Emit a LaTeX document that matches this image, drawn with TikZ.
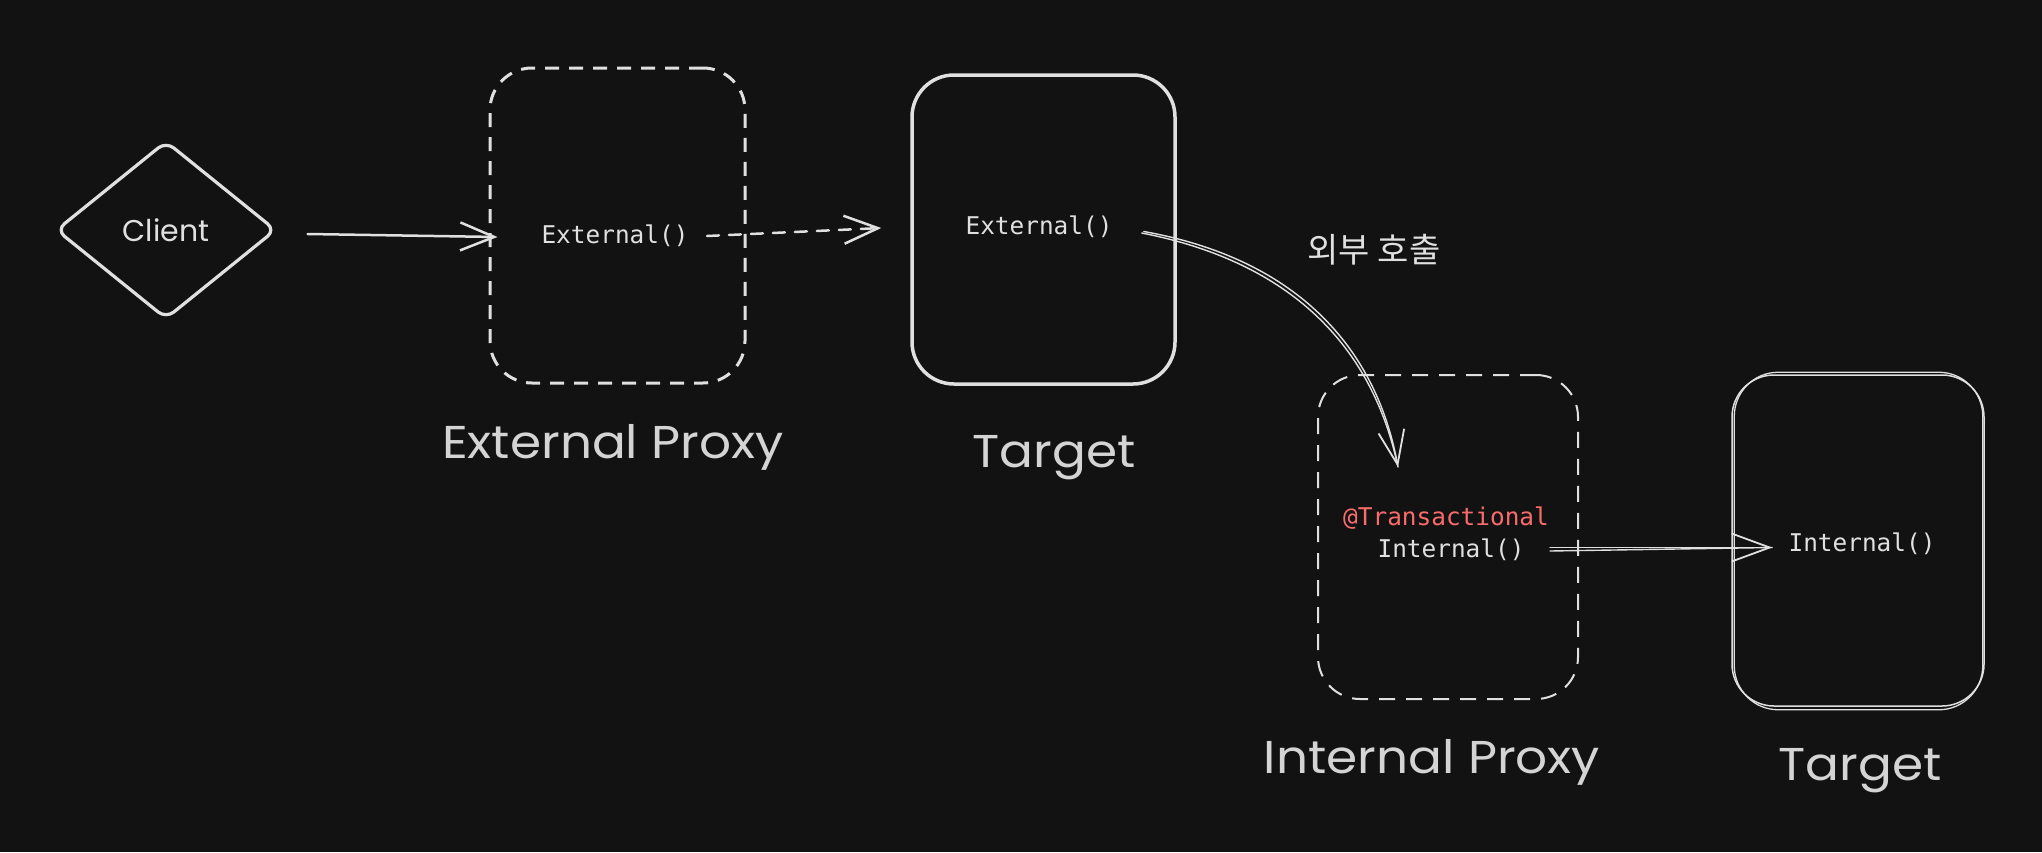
\documentclass[tikz,border=0pt]{standalone}
\usepackage{fontspec}
\setmainfont{Poppins}
\newfontfamily\codefont{DejaVu Sans Mono}
\newfontfamily\krfont{Noto Sans CJK KR}
\usetikzlibrary{shapes.geometric,arrows.meta,calc}
\definecolor{bg}{RGB}{18,18,18}
\definecolor{ink}{RGB}{224,224,224}
\definecolor{txt}{RGB}{212,212,212}
\definecolor{redtxt}{RGB}{250,108,108}
\newcommand{\widetitle}[1]{\scalebox{1.09}[1]{#1}}
\tikzset{
  barbarrow/.style={-{Straight Barb[length=34pt,width=28pt,line width=2.5pt]}},
  bigbox/.style={rounded corners=42pt, inner sep=0pt},
  codetext/.style={text=ink, font=\codefont\fontsize{24.4}{28}\selectfont, inner sep=0pt},
  bigtitle/.style={text=txt, font=\fontsize{46}{54}\selectfont, inner sep=0pt, anchor=base},
  conn/.style={draw=ink, line width=2.5pt, line cap=round},
}
\begin{document}
\begin{tikzpicture}[x=1pt,y=-1pt]
\fill[bg] (0,0) rectangle (2042,852);
\useasboundingbox (0,0) rectangle (2042,852);

% Client diamond
\node[diamond, draw=ink, line width=3.2pt, rounded corners=10pt, minimum width=220pt,
      minimum height=178pt, inner sep=0pt, text=ink,
      font=\fontsize{30}{36}\selectfont] (client) at (166,230) {Client};

% External proxy (dashed)
\node[bigbox, draw=ink, line width=3pt, dash pattern=on 14pt off 10pt,
      minimum width=255pt, minimum height=315pt] (extproxy) at (617.5,225.5) {};
\node[codetext] (extcall) at (615,236) {External()};
\node[bigtitle] (extlabel) at (613,458) {\widetitle{External Proxy}};

% Target 1
\node[bigbox, draw=ink, line width=3.5pt,
      minimum width=263pt, minimum height=309pt] (target1) at (1043.5,229.5) {};
\node[codetext] (t1call) at (1039,227) {External()};
\node[bigtitle] (t1label) at (1054,467) {\widetitle{Target}};

% Korean label
\node[text=ink, font=\krfont\fontsize{34}{40}\selectfont, inner sep=0pt] (outcall) at (1374,250) {외부 호출};

% Internal proxy (dashed)
\node[bigbox, draw=ink, line width=2pt, dash pattern=on 16pt off 11pt,
      minimum width=260pt, minimum height=324pt] (intproxy) at (1448,537) {};
\node[codetext, text=redtxt] (trans) at (1446,518) {@Transactional};
\node[codetext] (intcall) at (1451,550) {Internal()};
\node[bigtitle] (iplabel) at (1432,773) {\widetitle{Internal Proxy}};

% Target 2 (double sketch stroke)
\node[bigbox, draw=ink, line width=1.5pt,
      minimum width=252pt, minimum height=331pt] (target2) at (1858,540.5) {};
\draw[ink, line width=1.3pt, rounded corners=44pt]
  ($(target2.north west)+(3,-2)$) rectangle ($(target2.south east)+(-2,3)$);
\node[codetext] (t2call) at (1862,544) {Internal()};
\node[bigtitle] (t2label) at (1860,780) {\widetitle{Target}};

% Connectors
\draw[conn, barbarrow] ($(client.east)+(30,4)$) -- ($(extproxy.west)+(9,11.5)$);
\draw[conn, barbarrow, dash pattern=on 12pt off 10pt]
  ($(extproxy.center)+(89.5,10.5)$) -- ($(target1.west)+(-29,-1.5)$);

\draw[draw=ink, line width=1.4pt, line cap=round]
  ($(target1.east)+(-35,3.5)$) .. controls (1290,262) and (1372,345) .. ($(intproxy.north)+(-50,93)$);
\draw[draw=ink, line width=1.4pt, line cap=round,
      -{Straight Barb[length=34pt,width=26pt,line width=1.8pt]}]
  ($(target1.east)+(-33,2)$) .. controls (1292,258) and (1375,343) .. ($(intproxy.north)+(-50,93)$);

\draw[draw=ink, line width=1.4pt, line cap=round]
  ($(intproxy.east)+(-29,14)$) -- ($(target2.west)+(41,7)$);
\draw[draw=ink, line width=1.4pt, line cap=round,
      -{Straight Barb[length=38pt,width=28pt,line width=1.8pt]}]
  ($(intproxy.east)+(-29,10.5)$) -- ($(target2.west)+(41,7)$);
\end{tikzpicture}
\end{document}
